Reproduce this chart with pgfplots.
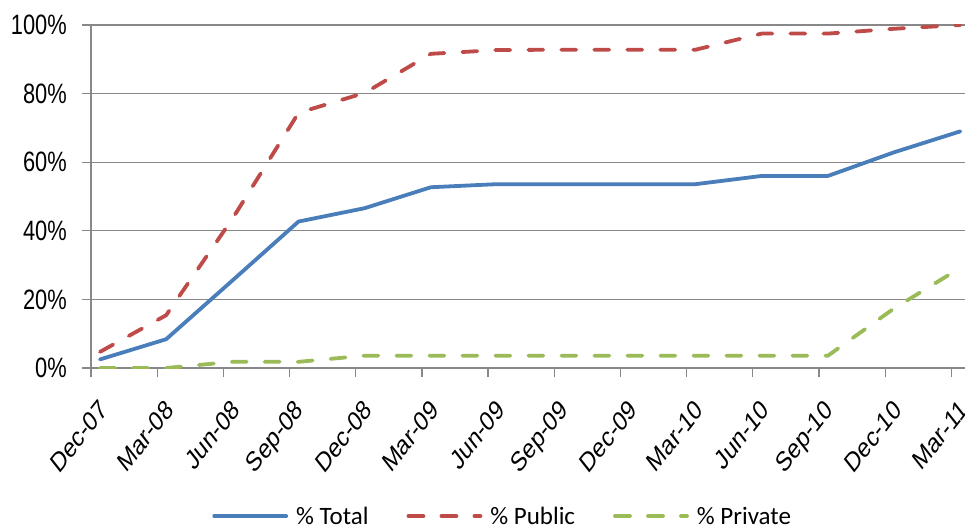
\documentclass[border=0pt]{standalone}
\usepackage{fontspec}
\setmainfont{Carlito}
\newfontfamily\tickfont{Liberation Sans}[FakeStretch=0.78]
\newfontfamily\catfont{Liberation Sans}
\usepackage{graphicx}
\usepackage{pgfplots}
\pgfplotsset{compat=1.18}

\definecolor{cTotal}{HTML}{4A7EBB}
\definecolor{cPublic}{HTML}{BE4B48}
\definecolor{cPrivate}{HTML}{9BBB59}
\definecolor{cGrid}{HTML}{888888}

% slanted category label, drawn a little taller than wide
\newcommand{\xl}[1]{\scalebox{1}[1.27]{\rotatebox{45}{\catfont\fontsize{21.6bp}{24bp}\selectfont #1}}}

\begin{document}
\begin{tikzpicture}
\begin{axis}[
  scale only axis,
  width=874bp, height=343bp,
  xmin=-0.136, xmax=13.07,
  ymin=0, ymax=100,
  axis x line*=bottom,
  axis y line*=left,
  axis line style={cGrid, line width=1.2bp},
  tick align=outside,
  tick style={cGrid, line width=1.2bp},
  xtick={0,...,13},
  xticklabels={\xl{Dec-07},\xl{Mar-08},\xl{Jun-08},\xl{Sep-08},\xl{Dec-08},\xl{Mar-09},\xl{Jun-09},\xl{Sep-09},\xl{Dec-09},\xl{Mar-10},\xl{Jun-10},\xl{Sep-10},\xl{Dec-10},\xl{Mar-11}},
  major x tick style={draw=none},
  minor xtick={-0.136,0.864,1.864,2.864,3.864,4.864,5.864,6.864,7.864,8.864,9.864,10.864,11.864,12.864},
  minor tick length=9bp,
  major tick length=9bp,
  xticklabel style={anchor=north east, inner sep=0pt, xshift=9bp, yshift=-21bp},
  ytick={0,20,40,60,80,100},
  yticklabels={0\%,20\%,40\%,60\%,80\%,100\%},
  yticklabel style={font=\tickfont\fontsize{28bp}{30bp}\selectfont, inner sep=0pt, xshift=-15bp},
  ymajorgrids,
  grid style={cGrid, line width=1.2bp},
  legend columns=3,
  legend style={draw=none, fill=none, at={(0.471,-0.432)}, anchor=center,
    font=\fontsize{25bp}{27bp}\selectfont,
    /tikz/every odd column/.append style={column sep=6bp},
    /tikz/every even column/.append style={column sep=36bp}},
  legend image code/.code={\draw[#1] (0bp,0bp) -- (72bp,0bp);},
  every axis plot/.append style={line width=3.8bp, line join=round},
]
% share of total, public and private
\addplot[cTotal, line cap=round] coordinates {
  (0,2.5) (1,8.4) (2,25.5) (3,42.7) (4,46.6) (5,52.7) (6,53.6)
  (7,53.6) (8,53.6) (9,53.6) (10,56.0) (11,56.0) (12,62.9) (13,69.0)};
\addlegendentry{\% Total}
\addplot[cPublic, line cap=round, dash pattern=on 15bp off 18bp] coordinates {
  (0,4.7) (1,15.4) (2,43.5) (3,74.4) (4,80.2) (5,91.6) (6,92.7)
  (7,92.8) (8,92.8) (9,92.8) (10,97.5) (11,97.5) (12,98.9) (13,100)};
\addlegendentry{\% Public}
\addplot[cPrivate, line cap=round, dash pattern=on 15bp off 18bp] coordinates {
  (0,0) (1,0) (2,1.8) (3,1.8) (4,3.6) (5,3.6) (6,3.6)
  (7,3.6) (8,3.6) (9,3.6) (10,3.6) (11,3.6) (12,17.4) (13,29.2)};
\addlegendentry{\% Private}
\end{axis}
\pgfresetboundingbox
\path[use as bounding box] (-91bp,-162bp) rectangle (874bp,368bp);
\end{tikzpicture}
\end{document}
